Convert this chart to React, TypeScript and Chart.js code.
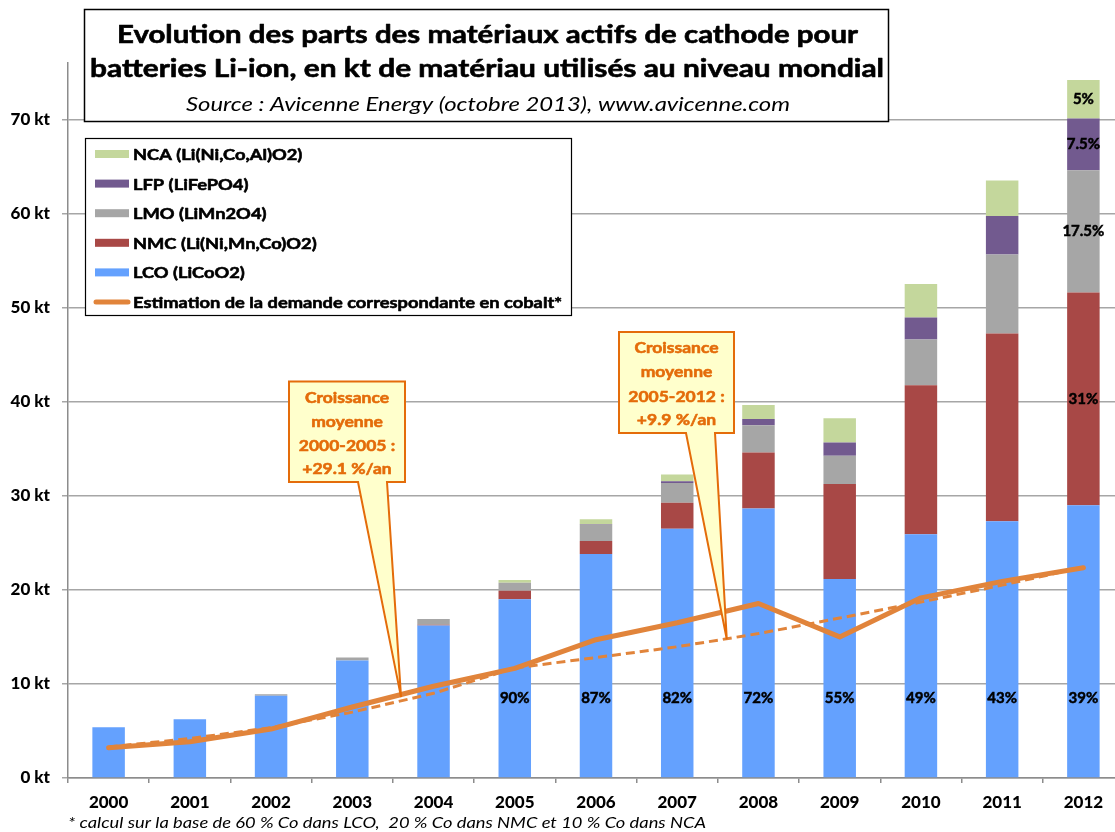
import React, { useEffect, useRef } from 'react';
import { Chart, registerables } from 'chart.js';

Chart.register(...registerables);

// ---------------- DATA ----------------
const years = ['2000', '2001', '2002', '2003', '2004', '2005', '2006', '2007', '2008', '2009', '2010', '2011', '2012'];

const lco = [5.4, 6.25, 8.75, 12.5, 16.2, 19.0, 23.8, 26.5, 28.65, 21.15, 25.9, 27.3, 29.0];
const nmc = [0, 0, 0, 0, 0.1, 0.9, 1.4, 2.75, 5.95, 10.1, 15.85, 19.95, 22.6];
const lmo = [0, 0, 0.15, 0.3, 0.6, 0.85, 1.7, 2.1, 2.9, 3.0, 4.85, 8.4, 13.0];
const lfp = [0, 0, 0, 0, 0, 0, 0.05, 0.2, 0.65, 1.4, 2.35, 4.1, 5.5];
const nca = [0, 0, 0, 0, 0, 0.3, 0.55, 0.7, 1.5, 2.6, 3.55, 3.75, 4.1];

const cobalt = [3.22, 3.85, 5.2, 7.55, 9.75, 11.65, 14.7, 16.5, 18.55, 15.0, 19.15, 20.9, 22.35];
const trend2000_2005 = [3.3, 4.2, 5.35, 7.0, 9.0, 11.7, null, null, null, null, null, null, null];
const trend2005_2012 = [null, null, null, null, null, 11.7, 12.8, 13.95, 15.35, 17.0, 18.7, 20.5, 22.4];

const pctLco = ['', '', '', '', '', '90%', '87%', '82%', '72%', '55%', '49%', '43%', '39%'];
const pctNmc = ['', '', '', '', '', '', '', '', '', '', '', '', '31%'];
const pctLmo = ['', '', '', '', '', '', '', '', '', '', '', '', '17.5%'];
const pctLfp = ['', '', '', '', '', '', '', '', '', '', '', '', '7.5%'];
const pctNca = ['', '', '', '', '', '', '', '', '', '', '', '', '5%'];

const seriesLabels = [
  'LCO (LiCoO2)',
  'NMC (Li(Ni,Mn,Co)O2)',
  'LMO (LiMn2O4)',
  'LFP (LiFePO4)',
  'NCA (Li(Ni,Co,Al)O2)',
];
const lineLabel = 'Estimation de la demande correspondante en cobalt*';

const yMin = 0;
const yMax = 76;
const yStep = 10;
const yUnit = ' kt';

const titleLines = [
  'Evolution des parts des matériaux actifs de cathode pour',
  'batteries Li-ion, en kt de matériau utilisés au niveau mondial',
];
const sourceLine = 'Source : Avicenne Energy (octobre 2013), www.avicenne.com';
const footnote = '* calcul sur la base de 60 % Co dans LCO,  20 % Co dans NMC et 10 % Co dans NCA';

const callout1Lines = ['Croissance', 'moyenne', '2000-2005 :', '+29.1 %/an'];
const callout2Lines = ['Croissance', 'moyenne', '2005-2012 :', '+9.9 %/an'];
// anchor of each callout pointer, in data units (category index, kt)
const callout1Anchor = [3.6, 8.6];
const callout2Anchor = [7.61, 14.75];
const lcoLabelValue = 8.5;

// ---------------- STYLE ----------------
const FONT = 'Lato, "Open Sans", sans-serif';
const C_LCO = '#64A1FE';
const C_NMC = '#A84846';
const C_LMO = '#A6A6A6';
const C_LFP = '#725A8F';
const C_NCA = '#C4D79C';
const C_LINE = '#E1843B';
const C_CALLOUT = '#E46C0A';
const C_GRID = '#A6A6A6';

function fitText(
  ctx: CanvasRenderingContext2D,
  text: string,
  x: number,
  y: number,
  font: string,
  width: number,
  align: CanvasTextAlign,
  embolden = 0,
) {
  ctx.save();
  ctx.font = font;
  const w = ctx.measureText(text).width;
  const s = w > 0 ? width / w : 1;
  ctx.translate(x, y);
  ctx.scale(s, 1);
  ctx.textAlign = align;
  ctx.textBaseline = 'alphabetic';
  ctx.fillText(text, 0, 0);
  if (embolden > 0) {
    ctx.strokeStyle = ctx.fillStyle as string;
    ctx.lineWidth = embolden;
    ctx.lineJoin = 'round';
    ctx.strokeText(text, 0, 0);
  }
  ctx.restore();
}

function drawCallout(
  ctx: CanvasRenderingContext2D,
  box: { x1: number; y1: number; x2: number; y2: number; wl: number; wr: number },
  tip: { x: number; y: number },
  lines: string[],
  baselines: number[],
) {
  ctx.save();
  ctx.beginPath();
  ctx.moveTo(box.x1, box.y1);
  ctx.lineTo(box.x2, box.y1);
  ctx.lineTo(box.x2, box.y2);
  ctx.lineTo(box.wr, box.y2);
  ctx.lineTo(tip.x, tip.y);
  ctx.lineTo(box.wl, box.y2);
  ctx.lineTo(box.x1, box.y2);
  ctx.closePath();
  ctx.fillStyle = '#FFFFCC';
  ctx.fill();
  ctx.lineWidth = 2;
  ctx.lineJoin = 'miter';
  ctx.strokeStyle = C_CALLOUT;
  ctx.stroke();
  ctx.fillStyle = C_CALLOUT;
  const font = `bold 16px ${FONT}`;
  ctx.font = font;
  const ref = ctx.measureText('Croissance').width;
  const s = 84 / ref;
  const cx = (box.x1 + box.x2) / 2;
  lines.forEach((t, i) => {
    ctx.font = font;
    const w = ctx.measureText(t).width * s;
    fitText(ctx, t, cx, baselines[i], font, w, 'center', 0.6);
  });
  ctx.restore();
}

const overlayPlugin = {
  id: 'overlay',
  afterDatasetsDraw(chart: any) {
    const ctx: CanvasRenderingContext2D = chart.ctx;
    const ys = chart.scales.y;
    const pctSets = [pctLco, pctNmc, pctLmo, pctLfp, pctNca];
    ctx.save();
    ctx.fillStyle = '#000';
    ctx.strokeStyle = '#000';
    ctx.lineWidth = 0.5;
    ctx.font = `bold 15px ${FONT}`;
    ctx.textAlign = 'center';
    ctx.textBaseline = 'middle';
    pctSets.forEach((arr, k) => {
      const meta = chart.getDatasetMeta(3 + k);
      arr.forEach((t, i) => {
        if (!t) return;
        const el = meta.data[i];
        const cy = k === 0 ? ys.getPixelForValue(lcoLabelValue) : (el.y + el.base) / 2;
        ctx.fillText(t, el.x, cy);
        ctx.strokeText(t, el.x, cy);
      });
    });
    ctx.restore();
  },
  afterDraw(chart: any) {
    const ctx: CanvasRenderingContext2D = chart.ctx;
    const xs = chart.scales.x;
    const ys = chart.scales.y;

    // callouts
    drawCallout(
      ctx,
      { x1: 289, y1: 381.5, x2: 405, y2: 482, wl: 358, wr: 387 },
      { x: xs.getPixelForValue(callout1Anchor[0]), y: ys.getPixelForValue(callout1Anchor[1]) },
      callout1Lines,
      [403, 427, 451, 474],
    );
    drawCallout(
      ctx,
      { x1: 619, y1: 332, x2: 734, y2: 433, wl: 686, wr: 715 },
      { x: xs.getPixelForValue(callout2Anchor[0]), y: ys.getPixelForValue(callout2Anchor[1]) },
      callout2Lines,
      [353, 377, 401.5, 424.5],
    );

    // legend box
    ctx.save();
    ctx.fillStyle = '#fff';
    ctx.fillRect(85, 138, 487, 178);
    ctx.strokeStyle = '#000';
    ctx.lineWidth = 1.2;
    ctx.strokeRect(85.5, 138.5, 486, 177);
    const ds = chart.data.datasets;
    const items = [ds[7], ds[6], ds[5], ds[4], ds[3], ds[0]];
    const lfont = `bold 16px ${FONT}`;
    ctx.font = lfont;
    const ls = 429 / ctx.measureText(lineLabel).width;
    items.forEach((d: any, i: number) => {
      const cy = 154 + i * 29.6;
      if (d.type === 'line') {
        ctx.strokeStyle = d.borderColor;
        ctx.lineWidth = 5;
        ctx.lineCap = 'round';
        ctx.beginPath();
        ctx.moveTo(96, cy);
        ctx.lineTo(128, cy);
        ctx.stroke();
      } else {
        ctx.fillStyle = d.backgroundColor;
        ctx.fillRect(95, cy - 4, 34, 8);
      }
      ctx.fillStyle = '#000';
      ctx.font = lfont;
      const w = ctx.measureText(d.label).width * ls;
      fitText(ctx, d.label, 133, cy + 6, lfont, w, 'left', 0.6);
    });
    ctx.restore();

    // title box
    ctx.save();
    ctx.fillStyle = '#fff';
    ctx.fillRect(84, 9, 805, 113);
    ctx.strokeStyle = '#000';
    ctx.lineWidth = 1.5;
    ctx.strokeRect(84.5, 9.5, 804, 112);
    ctx.fillStyle = '#000';
    fitText(ctx, titleLines[0], 487.5, 42.5, `bold 24px ${FONT}`, 741, 'center', 0.6);
    fitText(ctx, titleLines[1], 487, 77, `bold 24px ${FONT}`, 794, 'center', 0.6);
    fitText(ctx, sourceLine, 488, 110.5, `italic 20px ${FONT}`, 604, 'center');
    ctx.restore();

    // footnote
    ctx.save();
    ctx.fillStyle = '#000';
    fitText(ctx, footnote, 68, 828, `italic 16px ${FONT}`, 638, 'left');
    ctx.restore();
  },
};

export default function App() {
  const canvasRef = useRef<HTMLCanvasElement | null>(null);

  useEffect(() => {
    const canvas = canvasRef.current;
    if (!canvas) return;
    Chart.defaults.font.family = FONT;

    const chart = new Chart(canvas, {
      type: 'bar',
      data: {
        labels: years,
        datasets: [
          {
            type: 'line',
            label: lineLabel,
            data: cobalt,
            borderColor: C_LINE,
            backgroundColor: C_LINE,
            borderWidth: 5,
            pointRadius: 0,
            borderCapStyle: 'round',
            borderJoinStyle: 'round',
            stack: 'cobalt',
            order: 0,
          } as any,
          {
            type: 'line',
            label: 'Tendance 2000-2005',
            data: trend2000_2005,
            borderColor: C_LINE,
            borderWidth: 3,
            borderDash: [9, 5],
            pointRadius: 0,
            stack: 't1',
            order: 1,
          } as any,
          {
            type: 'line',
            label: 'Tendance 2005-2012',
            data: trend2005_2012,
            borderColor: C_LINE,
            borderWidth: 3,
            borderDash: [9, 5],
            pointRadius: 0,
            stack: 't2',
            order: 1,
          } as any,
          { type: 'bar', label: seriesLabels[0], data: lco, backgroundColor: C_LCO, stack: 'mat', order: 2 } as any,
          { type: 'bar', label: seriesLabels[1], data: nmc, backgroundColor: C_NMC, stack: 'mat', order: 2 } as any,
          { type: 'bar', label: seriesLabels[2], data: lmo, backgroundColor: C_LMO, stack: 'mat', order: 2 } as any,
          { type: 'bar', label: seriesLabels[3], data: lfp, backgroundColor: C_LFP, stack: 'mat', order: 2 } as any,
          { type: 'bar', label: seriesLabels[4], data: nca, backgroundColor: C_NCA, stack: 'mat', order: 2 } as any,
        ],
      },
      options: {
        responsive: false,
        animation: false,
        events: [],
        devicePixelRatio: 1,
        layout: { padding: { left: 0, right: 11, top: 63, bottom: 0 } },
        datasets: {
          bar: { barPercentage: 0.5, categoryPercentage: 0.8, borderWidth: 0 },
        },
        plugins: {
          legend: { display: false },
          title: { display: false },
          tooltip: { enabled: false },
        },
        scales: {
          x: {
            stacked: true,
            offset: true,
            grid: {
              display: true,
              drawOnChartArea: false,
              drawTicks: true,
              tickLength: 5,
              color: '#8C8C8C',
              lineWidth: 1.5,
              offset: true,
            },
            border: { display: true, color: '#8C8C8C', width: 1.5 },
            ticks: {
              color: '#000',
              font: { family: FONT, size: 17, weight: 900 },
              padding: 9,
              maxRotation: 0,
              autoSkip: false,
            },
            afterFit: (scale: any) => {
              scale.height = 54;
            },
          },
          y: {
            stacked: true,
            min: yMin,
            max: yMax,
            grid: {
              color: C_GRID,
              lineWidth: 1.5,
              drawTicks: true,
              tickLength: 6,
            },
            border: { display: true, color: '#8C8C8C', width: 1.5 },
            ticks: {
              stepSize: yStep,
              includeBounds: false,
              color: '#000',
              font: { family: FONT, size: 17, weight: 900 },
              padding: 12,
              callback: (v: any) => `${v}${yUnit}`,
            },
            afterFit: (scale: any) => {
              scale.width = 68;
            },
          },
        },
      } as any,
      plugins: [overlayPlugin],
    });

    let cancelled = false;
    if ((document as any).fonts && (document as any).fonts.ready) {
      (document as any).fonts.ready.then(() => {
        if (!cancelled) chart.update();
      });
    }

    return () => {
      cancelled = true;
      chart.destroy();
    };
  }, []);

  return (
    <div
      style={{
        position: 'fixed',
        left: 0,
        top: 0,
        width: 1115,
        height: 832,
        overflow: 'hidden',
        background: '#fff',
      }}
    >
      <canvas ref={canvasRef} width={1135} height={832} style={{ width: 1135, height: 832, display: 'block' }} />
    </div>
  );
}
